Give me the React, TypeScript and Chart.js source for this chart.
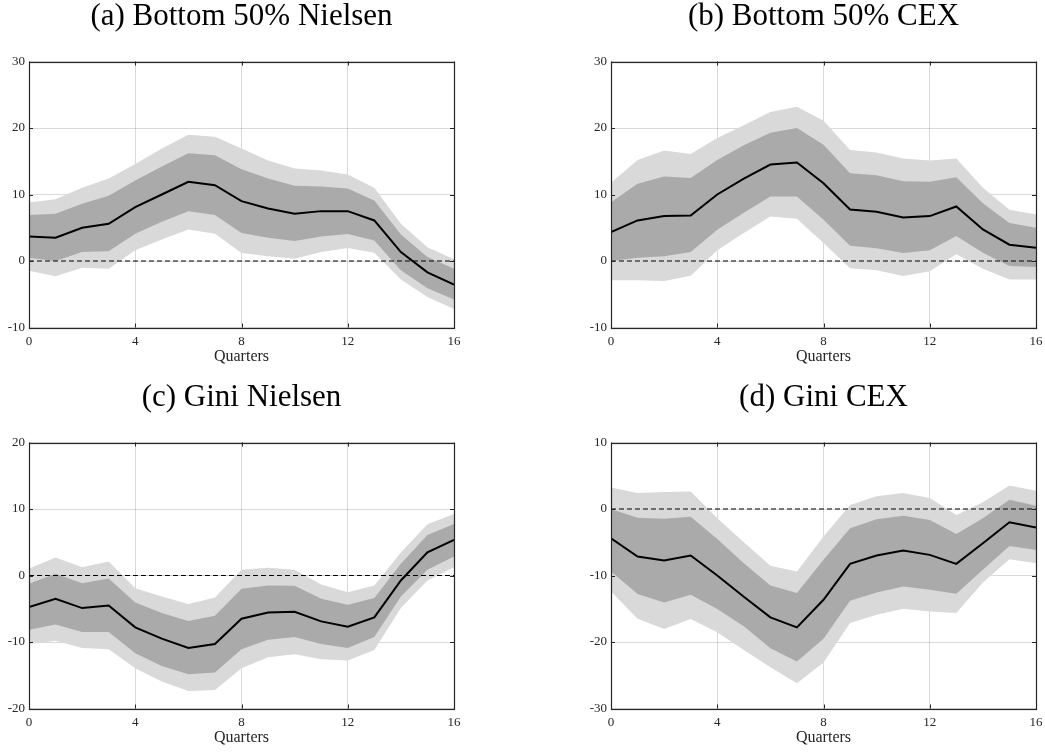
import React, { useEffect, useRef } from "react";
import { Chart, registerables } from "chart.js";

Chart.register(...registerables);

// Horizon (quarters)
const quarters = [0, 1, 2, 3, 4, 5, 6, 7, 8, 9, 10, 11, 12, 13, 14, 15, 16];
const xTicks = [0, 4, 8, 12, 16];

// (a) Bottom 50% Nielsen
const aMedian = [3.7, 3.5, 5.0, 5.6, 8.1, 10.0, 11.9, 11.4, 9.0, 7.9, 7.1, 7.5, 7.5, 6.1, 1.35, -1.7, -3.55];
const aDarkUp = [6.9, 7.1, 8.6, 9.8, 12.1, 14.2, 16.2, 15.9, 13.8, 12.4, 11.3, 11.2, 10.9, 9.1, 4.0, 0.6, -1.15];
const aDarkLo = [0.5, 0.0, 1.35, 1.45, 4.1, 5.9, 7.5, 6.9, 4.2, 3.5, 3.0, 3.7, 4.05, 3.1, -1.4, -4.1, -5.8];
const aLightUp = [8.8, 9.3, 11.0, 12.4, 14.6, 16.9, 19.0, 18.7, 16.9, 15.1, 13.9, 13.6, 13.0, 11.0, 5.6, 2.05, 0.25];
const aLightLo = [-1.45, -2.3, -1.0, -1.15, 1.6, 3.25, 4.75, 4.1, 1.2, 0.7, 0.35, 1.35, 1.95, 1.25, -2.8, -5.4, -7.2];

// (b) Bottom 50% CEX
const bMedian = [4.35, 6.1, 6.75, 6.85, 10.0, 12.4, 14.5, 14.8, 11.7, 7.75, 7.4, 6.55, 6.75, 8.2, 4.75, 2.45, 2.0];
const bDarkUp = [8.85, 11.6, 12.7, 12.5, 15.2, 17.4, 19.3, 20.0, 17.5, 13.2, 12.9, 12.0, 11.9, 12.6, 8.7, 5.7, 5.0];
const bDarkLo = [0.0, 0.5, 0.7, 1.35, 4.7, 7.25, 9.7, 9.7, 6.2, 2.3, 1.9, 1.2, 1.6, 3.75, 1.25, -0.75, -0.9];
const bLightUp = [11.75, 15.2, 16.6, 16.1, 18.5, 20.4, 22.4, 23.2, 21.1, 16.7, 16.3, 15.4, 15.1, 15.4, 11.0, 7.7, 7.0];
const bLightLo = [-2.9, -2.9, -3.0, -2.2, 1.6, 4.2, 6.7, 6.35, 2.7, -1.1, -1.4, -2.25, -1.55, 1.0, -1.15, -2.8, -2.8];

// (c) Gini Nielsen
const cMedian = [-4.75, -3.5, -4.9, -4.5, -7.8, -9.5, -10.9, -10.3, -6.5, -5.55, -5.45, -6.9, -7.7, -6.3, -0.75, 3.5, 5.35];
const cDarkUp = [-1.25, 0.25, -1.15, -0.45, -4.05, -5.65, -6.85, -6.05, -2.0, -1.5, -1.55, -3.5, -4.4, -3.4, 1.75, 6.1, 7.75];
const cDarkLo = [-8.15, -7.35, -8.5, -8.5, -11.7, -13.6, -14.85, -14.6, -11.1, -9.65, -9.25, -10.3, -10.9, -9.25, -3.15, 0.85, 2.85];
const cLightUp = [1.05, 2.7, 1.25, 2.1, -1.9, -3.15, -4.3, -3.3, 0.85, 1.15, 0.85, -1.35, -2.5, -1.5, 3.45, 7.7, 9.25];
const cLightLo = [-10.3, -9.8, -10.9, -11.1, -13.95, -15.95, -17.35, -17.2, -13.95, -12.3, -11.85, -12.6, -12.8, -11.2, -4.9, -0.75, 1.25];

// (d) Gini CEX
const dMedian = [-4.4, -7.15, -7.75, -7.0, -10.0, -13.2, -16.3, -17.8, -13.65, -8.25, -7.0, -6.25, -6.9, -8.25, -5.15, -2.0, -2.8];
const dDarkUp = [0.0, -1.3, -1.45, -1.15, -4.5, -8.15, -11.5, -12.65, -7.65, -2.9, -1.55, -1.0, -1.65, -3.75, -1.4, 1.4, 0.5];
const dDarkLo = [-9.4, -12.8, -14.05, -12.9, -15.05, -17.65, -20.95, -22.95, -19.5, -13.8, -12.55, -11.65, -12.15, -12.75, -9.15, -5.55, -6.15];
const dLightUp = [3.25, 2.4, 2.55, 2.65, -1.4, -5.0, -8.55, -9.4, -4.15, 0.6, 1.9, 2.4, 1.65, -0.9, 1.0, 3.55, 2.75];
const dLightLo = [-12.4, -16.5, -18.05, -16.55, -18.55, -21.2, -23.8, -26.2, -23.1, -17.15, -15.9, -15.0, -15.4, -15.65, -11.05, -7.55, -8.15];

const zeroLineX = [0, 16];
const zeroLineY = [0, 0];

const SERIF = '"Liberation Serif", "Times New Roman", serif';

type PanelProps = {
  title: string;
  median: number[];
  darkUp: number[];
  darkLo: number[];
  lightUp: number[];
  lightLo: number[];
  yMin: number;
  yMax: number;
  left: number;
  top: number;
};

const CW = 483;
const CH = 370;

function toXY(vals: number[]) {
  return quarters.map((q, i) => ({ x: q, y: vals[i] }));
}

function Panel(props: PanelProps) {
  const ref = useRef<HTMLCanvasElement | null>(null);
  useEffect(() => {
    if (!ref.current) return;
    const titlePlugin = {
      id: "panelTitle",
      afterDraw(chart: any) {
        const { ctx, chartArea } = chart;
        ctx.save();
        ctx.fillStyle = "#000";
        ctx.font = `31px ${SERIF}`;
        ctx.textAlign = "center";
        ctx.textBaseline = "alphabetic";
        ctx.fillText(props.title, (chartArea.left + chartArea.right) / 2, 25);
        ctx.restore();
      },
    };
    const boxPlugin = {
      id: "boxTicks",
      afterDraw(chart: any) {
        const { ctx, chartArea, scales } = chart;
        const { left, right, top, bottom } = chartArea;
        ctx.save();
        ctx.strokeStyle = "#262626";
        ctx.lineWidth = 1;
        ctx.beginPath();
        const tl = 4;
        for (const t of scales.x.ticks) {
          const px = Math.round(scales.x.getPixelForValue(t.value)) + 0.5;
          ctx.moveTo(px, bottom);
          ctx.lineTo(px, bottom - tl);
          ctx.moveTo(px, top);
          ctx.lineTo(px, top + tl);
        }
        for (const t of scales.y.ticks) {
          const py = Math.round(scales.y.getPixelForValue(t.value)) + 0.5;
          ctx.moveTo(left, py);
          ctx.lineTo(left + tl, py);
          ctx.moveTo(right, py);
          ctx.lineTo(right - tl, py);
        }
        ctx.stroke();
        ctx.lineWidth = 1.2;
        ctx.strokeRect(Math.round(left) + 0.5, Math.round(top) + 0.5, Math.round(right - left), Math.round(bottom - top));
        ctx.restore();
      },
    };
    const chart = new Chart(ref.current, {
      type: "line",
      data: {
        datasets: [
          {
            label: "median",
            data: toXY(props.median),
            borderColor: "#000",
            borderWidth: 2,
            pointRadius: 0,
            fill: false,
            order: 0,
          },
          {
            label: "zero",
            data: zeroLineX.map((x, i) => ({ x, y: zeroLineY[i] })),
            borderColor: "#000",
            borderWidth: 1.2,
            borderDash: [5, 3],
            pointRadius: 0,
            fill: false,
            order: 1,
          },
          {
            label: "68 up",
            data: toXY(props.darkUp),
            borderWidth: 0,
            borderColor: "rgba(0,0,0,0)",
            backgroundColor: "rgb(170,170,170)",
            pointRadius: 0,
            fill: "+1",
            order: 2,
          },
          {
            label: "68 lo",
            data: toXY(props.darkLo),
            borderWidth: 0,
            borderColor: "rgba(0,0,0,0)",
            pointRadius: 0,
            fill: false,
            order: 2,
          },
          {
            label: "90 up",
            data: toXY(props.lightUp),
            borderWidth: 0,
            borderColor: "rgba(0,0,0,0)",
            backgroundColor: "rgb(217,217,217)",
            pointRadius: 0,
            fill: "+1",
            order: 3,
          },
          {
            label: "90 lo",
            data: toXY(props.lightLo),
            borderWidth: 0,
            borderColor: "rgba(0,0,0,0)",
            pointRadius: 0,
            fill: false,
            order: 3,
          },
        ],
      },
      options: {
        animation: false,
        responsive: false,
        maintainAspectRatio: false,
        devicePixelRatio: 1,
        layout: { padding: { top: 61.5, right: 29, left: 0, bottom: 0 } },
        plugins: {
          legend: { display: false },
          tooltip: { enabled: false },
          title: { display: false },
        },
        scales: {
          x: {
            type: "linear",
            min: 0,
            max: 16,
            z: 1,
            afterFit: (s: any) => {
              s.height = CH - 327.5;
            },
            afterBuildTicks: (s: any) => {
              s.ticks = xTicks.map((v) => ({ value: v }));
            },
            grid: { color: "rgba(0,0,0,0.15)", lineWidth: 1, drawTicks: false },
            border: { display: false },
            ticks: {
              padding: 6,
              color: "#262626",
              font: { family: SERIF, size: 13 },
              maxRotation: 0,
            },
            title: {
              display: true,
              text: "Quarters",
              color: "#262626",
              font: { family: SERIF, size: 16 },
              padding: { top: 0, bottom: 4 },
            },
          },
          y: {
            min: props.yMin,
            max: props.yMax,
            z: 1,
            afterFit: (s: any) => {
              s.width = 29;
            },
            grid: { color: "rgba(0,0,0,0.15)", lineWidth: 1, drawTicks: false },
            border: { display: false },
            ticks: {
              stepSize: 10,
              padding: 4,
              color: "#262626",
              font: { family: SERIF, size: 13 },
            },
          },
        },
      },
      plugins: [titlePlugin, boxPlugin],
    } as any);
    return () => chart.destroy();
  }, []);
  return (
    <canvas
      ref={ref}
      width={CW}
      height={CH}
      style={{ position: "absolute", left: props.left, top: props.top, width: CW, height: CH }}
    />
  );
}

export default function App() {
  return (
    <div
      style={{
        position: "fixed",
        left: 0,
        top: 0,
        width: 1045,
        height: 752,
        background: "#fff",
        overflow: "hidden",
      }}
    >
      <Panel title="(a) Bottom 50% Nielsen" median={aMedian} darkUp={aDarkUp} darkLo={aDarkLo} lightUp={aLightUp} lightLo={aLightLo} yMin={-10} yMax={30} left={0} top={0} />
      <Panel title="(b) Bottom 50% CEX" median={bMedian} darkUp={bDarkUp} darkLo={bDarkLo} lightUp={bLightUp} lightLo={bLightLo} yMin={-10} yMax={30} left={582} top={0} />
      <Panel title="(c) Gini Nielsen" median={cMedian} darkUp={cDarkUp} darkLo={cDarkLo} lightUp={cLightUp} lightLo={cLightLo} yMin={-20} yMax={20} left={0} top={381} />
      <Panel title="(d) Gini CEX" median={dMedian} darkUp={dDarkUp} darkLo={dDarkLo} lightUp={dLightUp} lightLo={dLightLo} yMin={-30} yMax={10} left={582} top={381} />
    </div>
  );
}
